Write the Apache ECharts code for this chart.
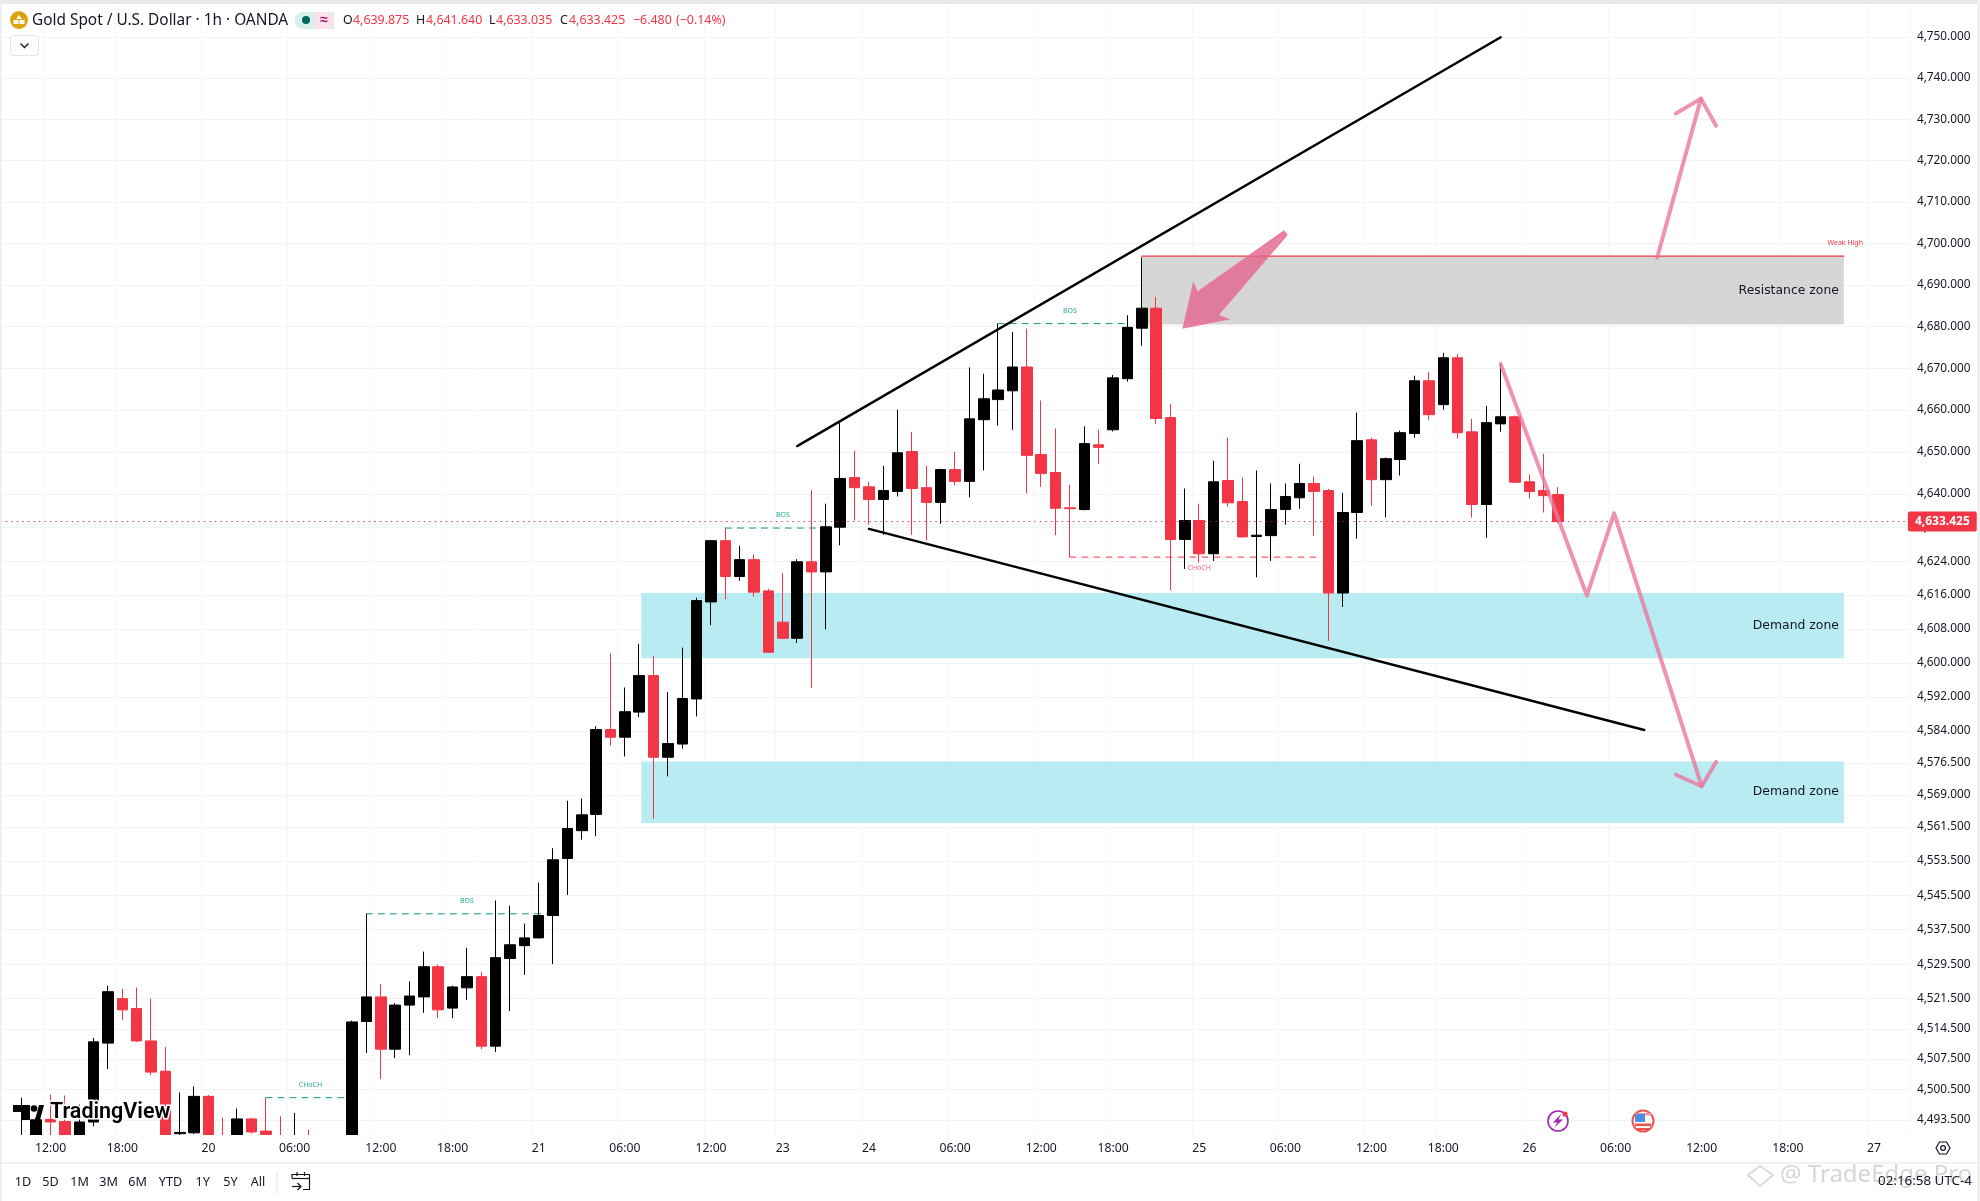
<!DOCTYPE html>
<html><head><meta charset="utf-8">
<script src="https://cdn.jsdelivr.net/npm/echarts@6/dist/echarts.min.js"></script>
<style>html,body{margin:0;padding:0;background:#fff}#c{width:1980px;height:1201px}</style>
</head><body><div id="c"></div>
<script>
const firstSlot = -3, lastSlot = 129;
const timeSlots = [0,5,11,17,23,28,34,40,46,51,57,63,69,74,80,86,92,97,103,109,115,121,127];
const timeLabels = ['12:00','18:00','20','06:00','12:00','18:00','21','06:00','12:00','23','24','06:00','12:00','18:00','25','06:00','12:00','18:00','26','06:00','12:00','18:00','27'];
const priceTicks = [4750,4740,4730,4720,4710,4700,4690,4680,4670,4660,4650,4640,4632,4624,4616,4608,4600,4592,4584,4576.5,4569,4561.5,4553.5,4545.5,4537.5,4529.5,4521.5,4514.5,4507.5,4500.5,4493.5];
const opens = [null,4487,4489,4493.6,4493.1,4489,4493,4511.2,4521.5,4519.2,
4511.7,4504.7,4490.3,4490.5,4498.9,4489.5,4489.9,4493.7,4490.9,4489.8,
4488,4489.5,4488.5,4488,4487,4516.2,4521.9,4509.8,4520,4521.9,
4528.9,4519.3,4524,4526.6,4510.5,4530.8,4533.8,4535.6,4540.8,4554.1,
4560.6,4564.4,4584.3,4582.5,4588.4,4597,4577.8,4580.9,4591.5,4614.4,
4628.9,4620.4,4624.4,4617,4609.6,4605.8,4623.9,4621.5,4632.1,4643.9,
4641.7,4638.7,4640.6,4650.1,4641.5,4638,4645.8,4643,4657.7,4662.5,
4664.6,4670.3,4649.4,4645.1,4636.7,4636.3,4651.7,4655.3,4667.5,4679.6,
4684.4,4658.2,4629.2,4633.7,4625.8,4643.2,4638.2,4629.9,4630.1,4636.3,
4639.1,4642.5,4640.8,4616.5,4635.6,4652.9,4643.4,4648.2,4654.4,4667,
4661.3,4672.5,4654.8,4637.5,4656.7,4658.4,4642.9,4640.8,4639.875];
const highs = [null,4498.6,4494,4499.3,4499.1,4497,4512.4,4524.5,4523.8,4524.1,
4521.5,4510.3,4499.8,4501.2,4499.2,4494,4496.1,4494,4498.6,4494.3,
4495.1,4491.2,4489.5,4489.5,4516.4,4541.2,4524.9,4520.5,4525.5,4532.4,
4529.4,4524.5,4533.3,4527.7,4544.3,4543.1,4538.9,4548.5,4556.5,4567.6,
4568.1,4585.1,4602.2,4594.2,4604.5,4601.7,4593.1,4603.6,4615.4,4629.1,
4631.9,4627.7,4625.6,4617.5,4621.2,4624.5,4640.9,4637.7,4656.9,4650.3,
4642.9,4646.7,4660.1,4654.8,4646.7,4646,4650.1,4670.2,4668.7,4680.7,
4678.7,4679.5,4662.3,4655.6,4642.2,4656.1,4655.3,4668.4,4682.7,4696.6,
4687.1,4661.5,4641.3,4637.7,4647.9,4653.4,4643.9,4645.6,4642.5,4642.5,
4647.2,4644.1,4641.2,4640.3,4659.4,4653.4,4648.7,4655.1,4668.2,4669.1,
4673.7,4673.4,4657.9,4661,4671,4658.7,4644.6,4649.6,4641.64];
const lows = [null,4486,4488,4488,4488,4488,4492,4505.2,4516.6,4511.5,
4503.8,4488,4489,4490.2,4489,4487.5,4489.5,4490.3,4489.5,4488.5,
4487.5,4488,4487,4486,4486,4508.9,4502.9,4507.7,4508.4,4518.2,
4517,4517,4521.2,4509.8,4509.1,4518.6,4527,4535.5,4529.5,4545.6,
4558.5,4559.3,4580.5,4578,4587.2,4563.4,4573.3,4579.8,4587.4,4608.9,
4615,4619.4,4615.6,4602.5,4605.6,4604.7,4594.1,4607.9,4627.8,4633.7,
4632.7,4630.3,4639.4,4630.3,4629,4632.9,4642.1,4639.2,4645.6,4656.3,
4655.3,4640.1,4641.7,4630.2,4625,4636.1,4647.2,4654.9,4666.8,4675.4,
4656.7,4617.2,4622.2,4623.7,4624.1,4637,4629.8,4620.2,4624.1,4632.7,
4636.5,4630.1,4605.2,4613.2,4629.4,4637.2,4634.4,4644.4,4653.4,4657.7,
4660.1,4653.2,4634.4,4629.6,4654.8,4642.6,4638.9,4635.6,4633.035];
const closes = [null,4489,4493.5,4493,4489,4493,4511.5,4523.1,4518.9,4511.7,
4504.5,4489,4490.6,4498.9,4489.8,4488,4493.7,4490.7,4490.1,4489,
4489.5,4488.5,4488,4487,4516.1,4521.9,4509.8,4520,4522.1,4528.9,
4518.9,4524.2,4526.6,4510.5,4531,4534,4535.6,4540.8,4553.8,4561.1,
4564.3,4584.3,4582.5,4588.5,4597,4577.8,4581,4591.6,4614.7,4628.9,
4620.4,4624.4,4616.7,4602.5,4605.8,4623.9,4621.5,4632.2,4643.7,4641.5,
4638.7,4640.8,4649.8,4641.3,4638,4645.8,4643,4657.9,4662.7,4664.8,
4670.3,4649.2,4644.9,4636.6,4636.5,4652,4651.1,4667.7,4679.8,4684.4,
4658,4629.2,4633.7,4625.8,4642.9,4637.9,4629.8,4630.2,4636.3,4639.4,
4642.5,4640.6,4616.5,4635.6,4652.7,4643.4,4648.4,4654.6,4667,4658.9,
4672.5,4654.6,4637.5,4657,4658.4,4642.8,4640.6,4639.6,4633.425];
const lastPrice = 4633.425;
const supportZones = [[41.15,124.9,4616.5,4601.1,'Demand zone'],[41.15,124.9,4576.8,4562.4,'Demand zone']];
const resistanceZones = [[76,124.9,4696.9,4680.5,'Resistance zone']];
const trendLines = [[[52,4651.4],[101,4749.9]],[[57,4631.7],[111,4584.2]]];
const pinkPaths = [
 [[111.9,4696.6],[114.95,4735]],
 [[113.2,4731.4],[114.95,4735],[116,4728.4]],
 [[101,4671],[107,4615.9],[108.9,4635.4],[115,4571]],
 [[113.2,4573.7],[115,4571],[116,4576.7]]];
const bigArrow = [[78.9,4679.7],[79.6,4690.3],[79.86,4688.2],[85.9,4702.9],[86.1,4702],[81.3,4682.7],[82,4681.8]];
const tealLevels = [[22,35,4541.2],[47,54,4631.9],[66,75,4680.7],[15,21,4498.6]];
const redLevels = [[71,88.3,4625]];
const weakHigh = [76,124.9,4696.9];
const levelTexts = [[29,4544.1,'BOS','#26a69a'],[51,4635,'BOS','#26a69a'],[71,4683.7,'BOS','#26a69a'],[18.1,4501.6,'CHoCH','#26a69a'],[80,4622.5,'CHoCH','#f0697a'],[125,4700,'Weak High','#f23645']];

const UI = '"Noto Sans",sans-serif';
const ink = '#131722', red = '#f23645', pink = '#e8799f';
const paneMin = 4490;
const categories = [];
for (let s = firstSlot; s <= lastSlot; s++) { const k = timeSlots.indexOf(s); categories.push(k >= 0 ? timeLabels[k] : ''); }
const rows = opens.map((o, i) => o == null ? '-' : [o, closes[i], lows[i], highs[i]]);
const fmt = v => Number(v).toLocaleString('en-US', {minimumFractionDigits: 3, maximumFractionDigits: 3});
const hidden = categories.map(c => c !== '');

function line(pts, color, width, type, z, opacity) {
  return {type: 'line', xAxisIndex: 1, yAxisIndex: 0, data: pts, showSymbol: false, symbol: 'none', silent: true, z, animation: false,
    lineStyle: {color, width, type: type || 'solid', opacity: opacity == null ? 1 : opacity, cap: 'round', join: 'round'}};
}
const series = [];
series.push({type: 'custom', xAxisIndex: 1, yAxisIndex: 0, z: 1, silent: true, data: [[0, 4600]], renderItem: () => ({type: 'group', children: []}),
  markArea: {silent: true, z: 1, data: [].concat(
    supportZones.map(a => [{coord: [a[0], a[2]], name: a[4], itemStyle: {color: '#b9ebf3'}}, {coord: [a[1], a[3]]}]),
    resistanceZones.map(a => [{coord: [a[0], a[2]], name: a[4], itemStyle: {color: '#d6d6d6'}}, {coord: [a[1], a[3]]}])),
    label: {show: true, position: 'insideRight', color: ink, fontSize: 12.4, fontFamily: '"DejaVu Sans",sans-serif', distance: 5}}});
tealLevels.forEach(a => series.push(line([[a[0], a[2]], [a[1], a[2]]], '#089981', 1, [6, 6], 1.5)));
redLevels.forEach(a => series.push(line([[a[0], a[2]], [a[1], a[2]]], red, 1, [6, 6], 1.5)));
series.push({type: 'candlestick', xAxisIndex: 0, yAxisIndex: 0, data: rows, barWidth: 11, z: 2, silent: true, clip: true,
  itemStyle: {color: '#000', color0: red, borderColor: '#000', borderColor0: red, borderWidth: 1},
  markLine: {silent: true, symbol: 'none', animation: false, z: 3, data: [{yAxis: lastPrice}],
    lineStyle: {color: 'rgba(194,24,91,.8)', type: [1.5, 4], width: 1},
    label: {show: true, position: 'end', formatter: () => fmt(lastPrice), color: '#fff', backgroundColor: red, padding: [4, 7, 4, 7], borderRadius: 2, fontSize: 12, fontWeight: 'bold', fontFamily: UI, distance: -2}}});
// white strip under the pane: candles reaching below the price range are cut off here
series.push({type: 'custom', xAxisIndex: 1, yAxisIndex: 0, z: 6, silent: true, clip: false, data: [[0, paneMin]],
  renderItem: (p, api) => { const a = api.coord([firstSlot - 0.5, paneMin]), b = api.coord([lastSlot + 0.5, paneMin]);
    return {type: 'rect', shape: {x: a[0], y: a[1], width: b[0] - a[0], height: 26}, style: {fill: '#fff'}}; }});
series.push(line([[weakHigh[0], weakHigh[2]], [weakHigh[1], weakHigh[2]]], red, 1.2, 'solid', 3));
trendLines.forEach(t => series.push(line(t, '#000', 2.4, 'solid', 4)));
pinkPaths.forEach(p => series.push(line(p, pink, 4, 'solid', 5, .8)));
series.push({type: 'custom', xAxisIndex: 1, yAxisIndex: 0, z: 5, silent: true, clip: false, data: [[0, 4700]],
  renderItem: (p, api) => ({type: 'polygon', shape: {points: bigArrow.map(a => api.coord(a))}, style: {fill: 'rgba(226,100,140,.8)', stroke: 'rgba(232,121,159,.95)', lineWidth: 1.5}})});
series.push({type: 'custom', xAxisIndex: 1, yAxisIndex: 0, z: 5, silent: true, clip: false, data: levelTexts.map(a => [a[0], a[1]]),
  renderItem: (p, api) => { const a = levelTexts[p.dataIndex], c = api.coord([a[0], a[1]]);
    return {type: 'text', x: c[0], y: c[1], style: {text: a[2], fill: a[3], font: '7px ' + UI, textAlign: 'center', textVerticalAlign: 'middle'}}; }});

function txt(x, y, text, size, fill, align, extra) {
  return {type: 'text', x, y, z: 30, style: Object.assign({text, fill, font: size + 'px ' + UI, textAlign: align || 'left', textVerticalAlign: 'middle'}, extra || {})};
}
function shape(type, sh, st, z) { return {type, shape: sh, style: st, z: z || 30}; }
const gfx = [
  shape('rect', {x: 0, y: 0, width: 1980, height: 4}, {fill: '#e9e9e9'}),
  shape('rect', {x: 0, y: 0, width: 1.5, height: 1201}, {fill: '#ececec'}),
  shape('rect', {x: 1977, y: 0, width: 3, height: 1201}, {fill: '#f0f0f0'}),
  shape('rect', {x: 0, y: 1162.5, width: 1977, height: 1}, {fill: '#e0e3eb'}),
  shape('circle', {cx: 19, cy: 20, r: 9}, {fill: '#dba30f'}),
  shape('polygon', {points: [[19, 15], [22, 19], [16, 19]]}, {fill: '#fff'}),
  shape('rect', {x: 13.5, y: 20, width: 5, height: 4}, {fill: '#fff'}),
  shape('rect', {x: 19.5, y: 20, width: 5, height: 4}, {fill: '#fff'}),
  txt(32, 20.5, 'Gold Spot / U.S. Dollar · 1h · OANDA', 15.4, ink),
  shape('rect', {x: 295, y: 12, width: 39, height: 17, r: [8, 0, 0, 8]}, {fill: '#d9efec'}),
  shape('rect', {x: 314.5, y: 12, width: 19.5, height: 17, r: [0, 8, 8, 0]}, {fill: '#fde2ec'}),
  shape('circle', {cx: 306, cy: 20, r: 4}, {fill: '#00695c'}),
  txt(324, 20, '≈', 14, '#a3165f', 'center', {font: 'bold 14px ' + UI}),
  txt(343, 20.5, 'O', 12.4, ink), txt(353, 20.5, '4,639.875', 12.4, red),
  txt(416, 20.5, 'H', 12.4, ink), txt(426, 20.5, '4,641.640', 12.4, red),
  txt(489, 20.5, 'L', 12.4, ink), txt(496, 20.5, '4,633.035', 12.4, red),
  txt(560, 20.5, 'C', 12.4, ink), txt(569, 20.5, '4,633.425', 12.4, red),
  txt(633, 20.5, '−6.480', 12.4, red), txt(676, 20.5, '(−0.14%)', 12.4, red),
  shape('rect', {x: 10.5, y: 35.5, width: 28, height: 20, r: 3}, {fill: '#fff', stroke: '#e0e3eb', lineWidth: 1}),
  shape('polyline', {points: [[20.5, 43.5], [24.5, 47.5], [28.5, 43.5]]}, {stroke: ink, lineWidth: 1.3, fill: 'none'}),
  shape('polygon', {points: [[13, 1105], [30, 1105], [30, 1120], [22, 1120], [22, 1112], [13, 1112]]}, {fill: '#000'}),
  shape('circle', {cx: 34, cy: 1108.5, r: 3.3}, {fill: '#000'}),
  shape('polygon', {points: [[35, 1120], [39, 1105], [44, 1105], [40, 1120]]}, {fill: '#000'}),
  txt(50, 1113, 'TradingView', 21.5, '#000', 'left', {font: '600 21.5px Roboto,sans-serif', stroke: '#fff', lineWidth: 3}),
  shape('circle', {cx: 1558, cy: 1121, r: 10}, {fill: '#fff', stroke: '#9c27b0', lineWidth: 1.6}),
  shape('polygon', {points: [[1561, 1114], [1553, 1122.5], [1557.5, 1122.5], [1554, 1128], [1563, 1119.5], [1558.5, 1119.5]]}, {fill: '#9c27b0'}),
  shape('circle', {cx: 1565, cy: 1114, r: 2.6}, {fill: red}),
  shape('circle', {cx: 1643, cy: 1121, r: 10.5}, {fill: '#fff', stroke: '#ef5350', lineWidth: 2}),
  shape('rect', {x: 1635, y: 1113, width: 17, height: 2.5}, {fill: '#ef9a9a'}),
  shape('rect', {x: 1635, y: 1123.5, width: 16, height: 2.6}, {fill: '#ef5350'}),
  shape('rect', {x: 1636, y: 1128, width: 14, height: 2}, {fill: '#ef5350'}),
  shape('rect', {x: 1635, y: 1114, width: 10, height: 8}, {fill: '#4a90e2'}),
  shape('polygon', {points: [[1936, 1148], [1939.5, 1142], [1946.5, 1142], [1950, 1148], [1946.5, 1154], [1939.5, 1154]]}, {fill: 'none', stroke: ink, lineWidth: 1.2}),
  shape('circle', {cx: 1943, cy: 1148, r: 2.4}, {fill: 'none', stroke: ink, lineWidth: 1.2})
];
[[23,'1D'],[50.5,'5D'],[79.5,'1M'],[108.6,'3M'],[137.6,'6M'],[170.5,'YTD'],[202.7,'1Y'],[230.5,'5Y'],[258,'All']].forEach(a => gfx.push(txt(a[0], 1182, a[1], 12.6, ink, 'center')));
gfx.push(shape('rect', {x: 276.5, y: 1171, width: 1, height: 23}, {fill: '#e0e3eb'}));
gfx.push(shape('polyline', {points: [[292, 1178], [292, 1174.5], [309.5, 1174.5], [309.5, 1189.5], [303, 1189.5]]}, {fill: 'none', stroke: ink, lineWidth: 1.2}));
gfx.push(shape('polyline', {points: [[292, 1178.5], [309.5, 1178.5]]}, {fill: 'none', stroke: ink, lineWidth: 1.2}));
gfx.push(shape('polyline', {points: [[292, 1186.5], [301, 1186.5]]}, {fill: 'none', stroke: ink, lineWidth: 1.2}));
gfx.push(shape('polyline', {points: [[297.5, 1183], [301, 1186.5], [297.5, 1190]]}, {fill: 'none', stroke: ink, lineWidth: 1.2}));
gfx.push(shape('polyline', {points: [[297, 1172], [297, 1176]]}, {fill: 'none', stroke: ink, lineWidth: 1.2}));
gfx.push(shape('polyline', {points: [[304.5, 1172], [304.5, 1176]]}, {fill: 'none', stroke: ink, lineWidth: 1.2}));
gfx.push(shape('polygon', {points: [[1760, 1166], [1773, 1175], [1760, 1186], [1748, 1175]]}, {fill: 'none', stroke: '#dadada', lineWidth: 2}));
gfx.push(txt(1780, 1175, '@ TradeEdge Pro', 24, '#d6d6d6'));
gfx.push(txt(1972, 1181, '02:16:58 UTC-4', 13.4, ink, 'right'));

const chart = echarts.init(document.getElementById('c'), null, {renderer: 'canvas'});
chart.setOption({
  animation: false, backgroundColor: '#fff',
  grid: {left: 0.3, top: 4.5, width: 1909.6, height: 1130.5, containLabel: false},
  xAxis: [
    {type: 'category', data: categories, position: 'bottom', boundaryGap: true, axisLine: {show: false}, axisTick: {show: false, alignWithLabel: true},
     splitLine: {show: true, interval: (i) => hidden[i], lineStyle: {color: '#f7f8fa', width: 1}}, axisLabel: {show: false}},
    {type: 'value', show: false, min: firstSlot - 0.5, max: lastSlot + 0.5, splitLine: {show: false}},
    {type: 'category', data: categories, position: 'bottom', z: 10, boundaryGap: true, axisLine: {show: false}, axisTick: {show: false}, splitLine: {show: false},
     axisLabel: {interval: (i) => hidden[i], color: ink, fontSize: 12.2, fontFamily: UI, margin: 8}}
  ],
  yAxis: [{type: 'log', logBase: 10, position: 'right', min: paneMin, max: 4757.9, axisLine: {show: false},
    axisTick: {show: false, customValues: priceTicks},
    splitLine: {show: true, lineStyle: {color: '#f2f3f5', width: 1}},
    axisLabel: {customValues: priceTicks, formatter: fmt, color: ink, fontSize: 11.8, fontFamily: UI, margin: 7, align: 'left'}}],
  series, graphic: {elements: gfx}
});
</script></body></html>
